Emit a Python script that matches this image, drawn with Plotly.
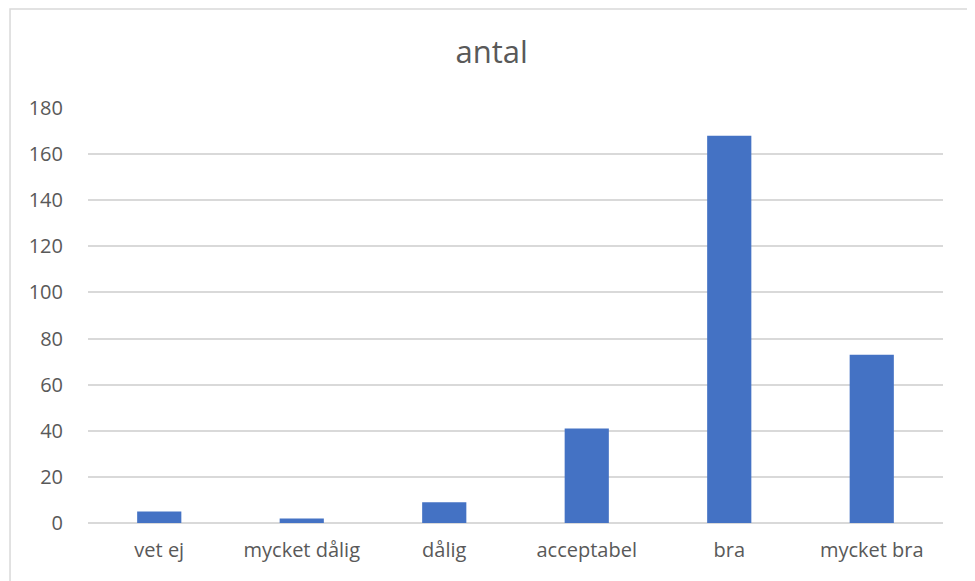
import plotly.graph_objects as go

categories = ['vet ej', 'mycket dålig', 'dålig', 'acceptabel', 'bra', 'mycket bra']
antal = [5, 2, 9, 41, 168, 73]
y_ticks = [0, 20, 40, 60, 80, 100, 120, 140, 160, 180]

fig = go.Figure()
fig.add_trace(go.Bar(x=categories, y=antal, name='antal',
                     marker=dict(color='#4472C4', line=dict(width=0))))

fig.update_layout(
    width=975, height=581,
    title=dict(text='antal', x=0.496, xanchor='center', y=0.924, yanchor='middle',
               font=dict(size=31, color='#595959')),
    font=dict(family='Open Sans, sans-serif', size=20, color='#595959'),
    plot_bgcolor='white', paper_bgcolor='white',
    margin=dict(l=80, r=40, t=100, b=66),
    bargap=0.69,
    showlegend=False,
)
fig.update_xaxes(showgrid=False, showline=False, ticks='', ticklabelstandoff=13)
fig.update_yaxes(range=[0, 180], tickvals=y_ticks, showgrid=True, gridcolor='#D9D9D9',
                 gridwidth=1.5, zeroline=True, zerolinecolor='#D9D9D9', zerolinewidth=1.5,
                 ticks='', ticklabelstandoff=24)

# outer chart border, running off the bottom edge like the screenshot
fig.add_shape(type='rect', xref='paper', yref='paper', x0=-0.0912, x1=1.0327, y0=-0.3, y1=1.2386,
              line=dict(color='#D9D9D9', width=1.5), fillcolor='rgba(0,0,0,0)', layer='below')

fig.write_html("out.html")
